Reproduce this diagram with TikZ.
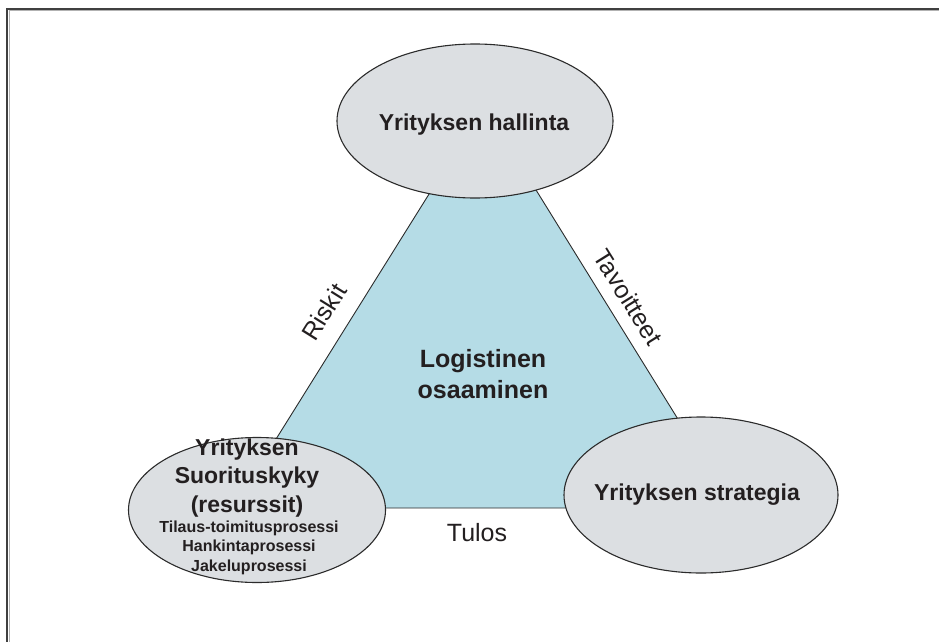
\documentclass[tikz,border=0pt]{standalone}
\usepackage{fontspec}
\setmainfont{Liberation Sans}
\usetikzlibrary{shapes.geometric}
\definecolor{ovalfill}{HTML}{DCDFE2}
\definecolor{corefill}{HTML}{B5DCE6}
\definecolor{inkline}{HTML}{2B2B2B}
\definecolor{inktext}{HTML}{231F20}
\begin{document}
\begin{tikzpicture}[x=1pt,y=-1pt,
  oval/.style={ellipse, draw=inkline, fill=ovalfill, line width=1.1pt, inner sep=0pt},
  headtext/.style={font=\bfseries\fontsize{23}{28}\selectfont, text=inktext, inner sep=0pt, anchor=base},
  coretext/.style={font=\bfseries\fontsize{25}{30}\selectfont, text=inktext, inner sep=0pt, anchor=base},
  subtext/.style={font=\bfseries\fontsize{16}{19}\selectfont, text=inktext, inner sep=0pt, anchor=base},
  edgetext/.style={font=\fontsize{25}{30}\selectfont, text=inktext, inner sep=0pt},
]
\useasboundingbox (0,0) rectangle (939,642);

% page frame (top and left edges)
\draw[line width=2.2pt, color=black!75] (7,660) -- (7,9) -- (960,9);
\draw[line width=0.8pt, color=black!30] (8.9,660) -- (8.9,10.9) -- (960,10.9);

% central triangle
\coordinate (apex) at (484,106);
\coordinate (baseL) at (233,508);
\coordinate (baseR) at (733,508);
\draw[fill=corefill, draw=inkline, line width=0.9pt] (apex) -- (baseL) -- (baseR) -- cycle;

% the three ellipses
\node[oval, minimum width=276, minimum height=154] (gov) at (475,121) {};
\node[oval, minimum width=257, minimum height=145] (perf) at (257,510) {};
\node[oval, minimum width=274, minimum height=156] (strat) at (701,495) {};

% ellipse texts
\node[headtext] (govtext) at (474,130) {Yrityksen hallinta};
\node[headtext] (strattext) at (697,500) {Yrityksen strategia};
\node[headtext] (perf1) at (247,455) {Yrityksen};
\node[headtext] (perf2) at (247,483.5) {Suorituskyky};
\node[headtext] (perf3) at (247,512) {(resurssit)};
\node[subtext] (perf4) at (249,532) {Tilaus-toimitusprosessi};
\node[subtext] (perf5) at (249,551.5) {Hankintaprosessi};
\node[subtext] (perf6) at (249,571) {Jakeluprosessi};

% centre text
\node[coretext] (core1) at (483,367) {Logistinen};
\node[coretext] (core2) at (483,398) {osaaminen};

% side labels
\node[edgetext, rotate=58] (risk) at (324,312) {Riskit};
\node[edgetext, rotate=-58] (goal) at (628,297) {Tavoitteet};
\node[edgetext, anchor=base] (result) at (477,541) {Tulos};
\end{tikzpicture}
\end{document}
